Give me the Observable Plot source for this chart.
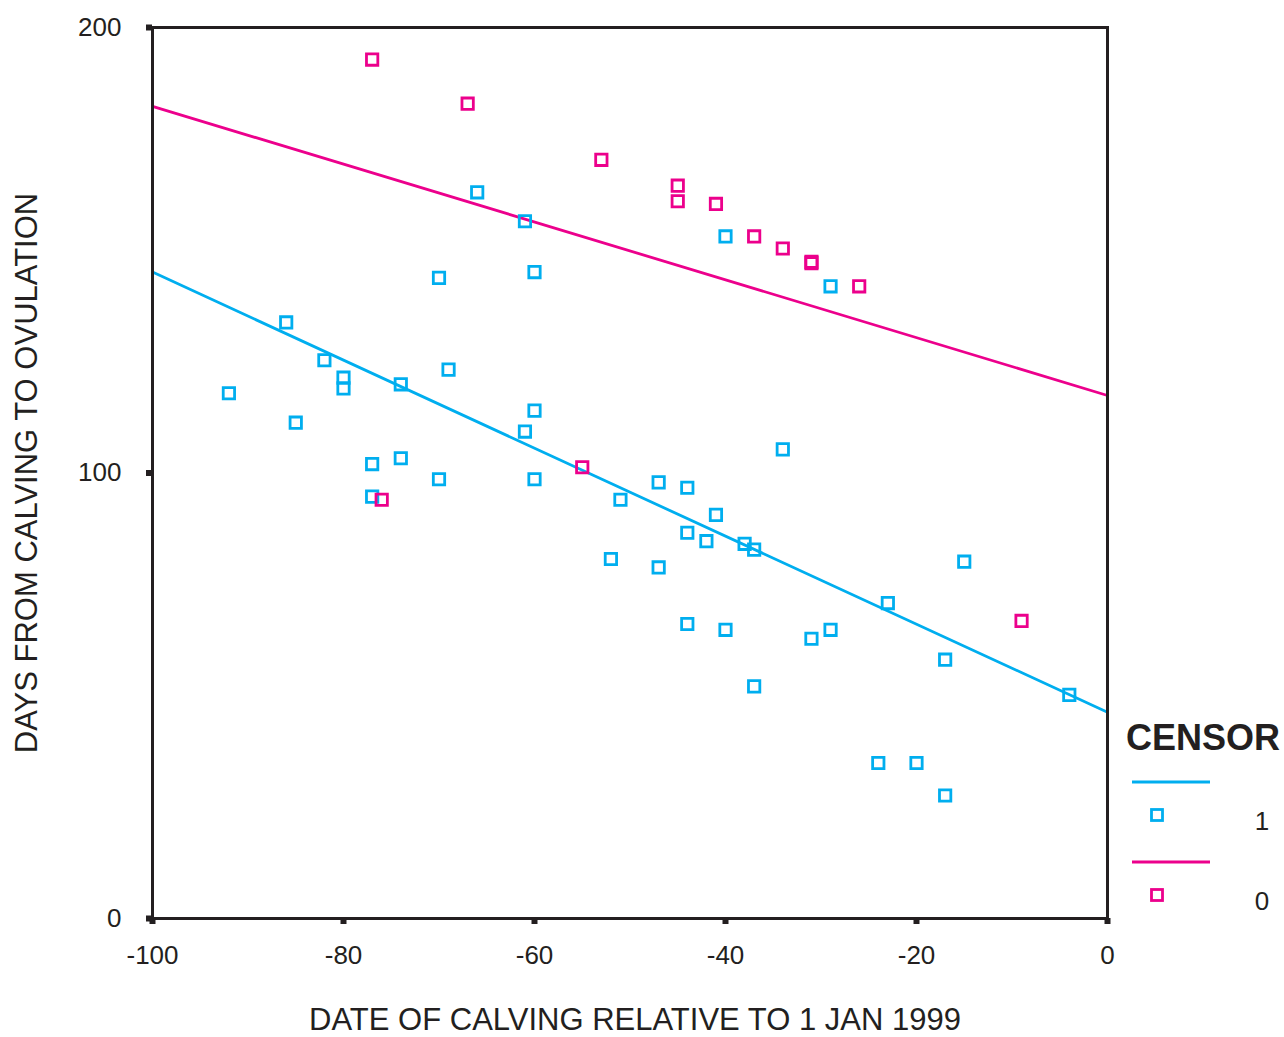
<!DOCTYPE html>
<html>
<head>
<meta charset="utf-8">
<script src="https://cdn.jsdelivr.net/npm/d3@7"></script>
<script src="https://cdn.jsdelivr.net/npm/@observablehq/plot@0.6"></script>
<style>
  html, body { margin: 0; padding: 0; background: #fff; }
  #chart svg { display: block; }
</style>
</head>
<body>
<div id="chart"></div>
<script>
// ---- Data ----
const censorGroups = ["1", "0"];
const censorColors = ["#00aeef", "#ec008c"];

// CENSOR = 1
const censor1X = [-66, -61, -70, -60, -40, -29, -86, -82, -80, -80, -74, -69, -92, -85, -60, -61, -77, -74, -70, -60, -77, -34, -47, -44, -51, -41, -44, -42, -38, -37, -52, -47, -15, -23, -44, -40, -31, -29, -17, -37, -4, -24, -20, -17];
const censor1Y = [163, 156.5, 143.8, 145.1, 153.1, 141.9, 133.8, 125.3, 121.4, 119.0, 119.9, 123.2, 117.9, 111.3, 114.0, 109.3, 102.0, 103.3, 98.6, 98.6, 94.7, 105.3, 97.9, 96.7, 94.0, 90.6, 86.6, 84.7, 84.1, 82.8, 80.7, 78.8, 80.1, 70.8, 66.1, 64.8, 62.8, 64.8, 58.1, 52.1, 50.2, 34.9, 34.9, 27.6];

// CENSOR = 0
const censor0X = [-77, -67, -53, -45, -45, -41, -37, -34, -31, -31, -26, -55, -76, -9];
const censor0Y = [192.8, 182.9, 170.3, 164.5, 161.0, 160.4, 153.1, 150.4, 147.1, 147.4, 141.9, 101.3, 94.0, 66.8];

// Fit lines (value at x = 0, slope per day)
const fitIntercept = [46.3, 117.4];
const fitSlope = [-0.988, -0.649];

const xDomain = [-100, 0];
const yDomain = [0, 200];
const xTicks = [-100, -80, -60, -40, -20, 0];
const yTicks = [0, 100, 200];

const xTitle = "DATE OF CALVING RELATIVE TO 1 JAN 1999";
const yTitle = "DAYS FROM CALVING TO OVULATION";
const legendTitle = "CENSOR";

// ---- Build tables ----
const points = [
  ...censor1X.map((x, i) => ({x, y: censor1Y[i], g: "1"})),
  ...censor0X.map((x, i) => ({x, y: censor0Y[i], g: "0"}))
];
const fitLines = censorGroups.flatMap((g, i) =>
  xDomain.map(x => ({x, y: fitIntercept[i] + fitSlope[i] * x, g}))
);

const ink = "#231f20";
const font = "'Liberation Sans', Arial, Helvetica, sans-serif";
const plainNum = d => String(d);

const chart = Plot.plot({
  width: 1284,
  height: 1037,
  marginLeft: 152,
  marginRight: 177,
  marginTop: 27,
  marginBottom: 119,
  style: {fontFamily: font, color: ink, background: "#fff"},
  x: {domain: xDomain},
  y: {domain: yDomain},
  color: {domain: censorGroups, range: censorColors},
  marks: [
    Plot.line(fitLines, {x: "x", y: "y", z: "g", stroke: "g", strokeWidth: 2.8}),
    Plot.dot(points, {x: "x", y: "y", stroke: "g", symbol: "square", r: 6.4, strokeWidth: 2.8, fill: "none"}),
    Plot.frame({stroke: ink, strokeWidth: 3}),
    Plot.axisX({ticks: xTicks, tickFormat: plainNum, tickSize: 6, tickPadding: 21, fontSize: 26, strokeWidth: 6, label: null, stroke: ink, fill: ink}),
    Plot.axisY({ticks: yTicks, tickFormat: plainNum, tickSize: 6, tickPadding: 25, fontSize: 26, strokeWidth: 6, label: null, stroke: ink, fill: ink}),
    Plot.text([xTitle], {frameAnchor: "bottom", dx: 5, dy: 102, textAnchor: "middle", lineAnchor: "middle", fontSize: 31, fill: ink}),
    Plot.text([yTitle], {frameAnchor: "left", dx: -125, rotate: -90, textAnchor: "middle", lineAnchor: "middle", fontSize: 31, fill: ink})
  ]
});

document.getElementById("chart").appendChild(chart);

// ---- Legend (outside the frame, right side) ----
const svg = d3.select(chart);
const lg = svg.append("g").attr("font-family", font);
lg.append("text").attr("x", 1126).attr("y", 750)
  .attr("text-anchor", "start")
  .attr("font-size", 36).attr("font-weight", "bold").attr("fill", ink)
  .text(legendTitle);
censorGroups.forEach((g, i) => {
  const top = 782 + i * 80;
  lg.append("line").attr("x1", 1132).attr("x2", 1210).attr("y1", top).attr("y2", top)
    .attr("stroke", censorColors[i]).attr("stroke-width", 2.8);
  lg.append("rect").attr("x", 1157 - 5.5).attr("y", top + 33 - 5.5).attr("width", 11).attr("height", 11)
    .attr("fill", "none").attr("stroke", censorColors[i]).attr("stroke-width", 2.8);
  lg.append("text").attr("x", 1262).attr("y", top + 39).attr("dy", "0.35em")
    .attr("text-anchor", "middle").attr("font-size", 26).attr("fill", ink).text(g);
});
</script>
</body>
</html>
